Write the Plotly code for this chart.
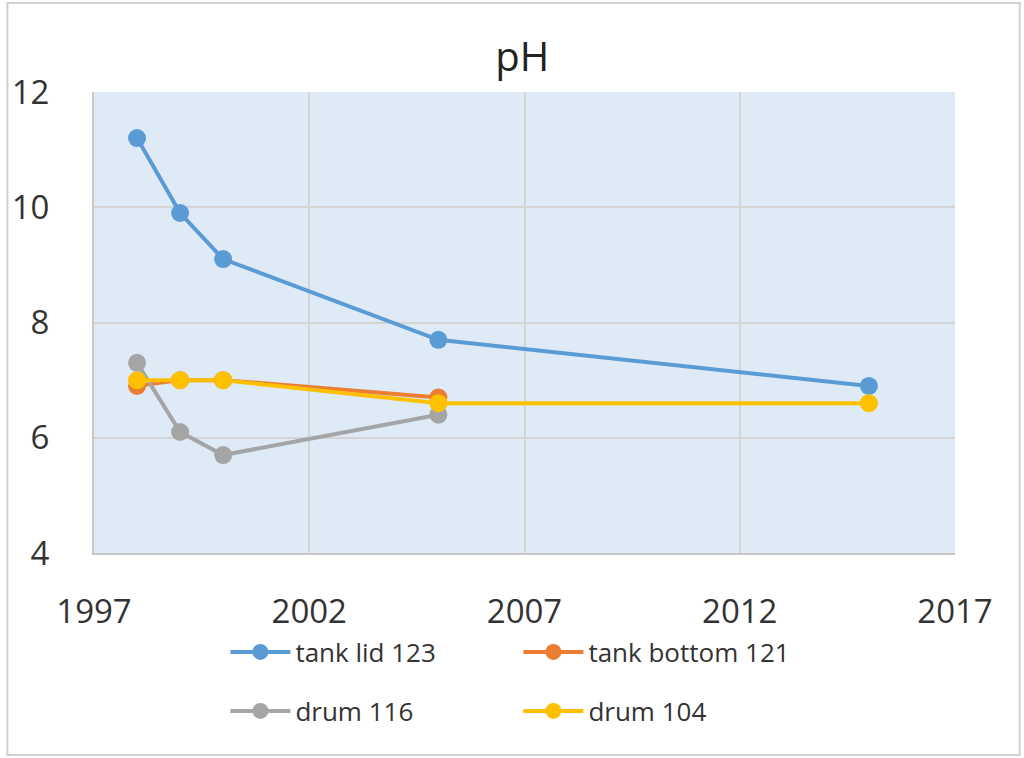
import plotly.graph_objects as go

title = "pH"
names = ["tank lid 123", "tank bottom 121", "drum 116", "drum 104"]
colors = ["#5B9BD5", "#ED7D31", "#A5A5A5", "#FFC000"]

years_lid = [1998, 1999, 2000, 2005, 2015]
ph_lid = [11.2, 9.9, 9.1, 7.7, 6.9]

years_bottom = [1998, 1999, 2000, 2005]
ph_bottom = [6.9, 7.0, 7.0, 6.7]

years_d116 = [1998, 1999, 2000, 2005]
ph_d116 = [7.3, 6.1, 5.7, 6.4]

years_d104 = [1998, 1999, 2000, 2005, 2015]
ph_d104 = [7.0, 7.0, 7.0, 6.6, 6.6]

x_ticks = [1997, 2002, 2007, 2012, 2017]
y_ticks = [4, 6, 8, 10, 12]

series = [(years_lid, ph_lid), (years_bottom, ph_bottom), (years_d116, ph_d116), (years_d104, ph_d104)]
legend_ids = ["legend", "legend", "legend2", "legend2"]

FONT = "Open Sans"
fig = go.Figure()
for (xs, ys), name, col, lg in zip(series, names, colors, legend_ids):
    fig.add_trace(go.Scatter(
        x=xs, y=ys, name=name, mode="lines+markers",
        line=dict(color=col, width=4),
        marker=dict(color=col, size=18),
        legend=lg,
    ))

legend_common = dict(
    orientation="h", xanchor="left", yanchor="middle",
    font=dict(family=FONT, size=26, color="#333333"),
    bgcolor="rgba(0,0,0,0)", entrywidth=218, entrywidthmode="pixels",
    itemwidth=60,
)

fig.update_layout(
    width=1024, height=758,
    margin=dict(l=90, r=69, t=92, b=205),
    paper_bgcolor="white",
    plot_bgcolor="#DEEBF7",
    title=dict(text=title, x=0.51, xanchor="center", y=0.925, yanchor="middle",
               font=dict(family=FONT, size=40, color="#222222")),
    font=dict(family=FONT, color="#333333"),
    xaxis=dict(range=[1997, 2017], tickvals=x_ticks, ticktext=[str(v) for v in x_ticks],
               showgrid=True, gridcolor="#D4D4D4", gridwidth=2,
               showline=True, linecolor="#C8C8C8", linewidth=2,
               zeroline=False, ticks="", ticklabelstandoff=28,
               tickfont=dict(family=FONT, size=33, color="#333333")),
    yaxis=dict(range=[4, 12], tickvals=y_ticks,
               showgrid=True, gridcolor="#D4D4D4", gridwidth=2,
               showline=True, linecolor="#C8C8C8", linewidth=2,
               zeroline=False, ticks="", ticklabelstandoff=36,
               tickfont=dict(family=FONT, size=33, color="#333333")),
    legend=dict(x=(222 - 90) / 865, y=-(652 - 553) / 461, **legend_common),
    legend2=dict(x=(222 - 90) / 865, y=-(711 - 553) / 461, **legend_common),
    showlegend=True,
)

fig.add_shape(type="rect", xref="paper", yref="paper",
              x0=-87 / 865, x1=(1020 - 90) / 865,
              y0=-(755 - 553) / 461, y1=(553 - 3) / 461,
              line=dict(color="#D0D0D0", width=2), fillcolor="rgba(0,0,0,0)", layer="below")

fig.write_html("out.html")
